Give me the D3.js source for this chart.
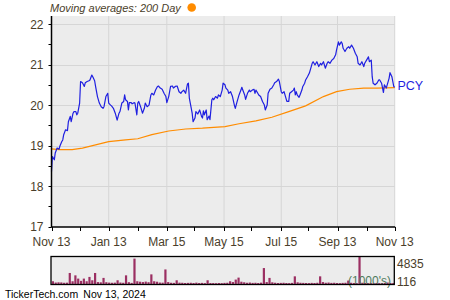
<!DOCTYPE html>
<html><head><meta charset="utf-8">
<script src="https://cdn.jsdelivr.net/npm/d3@7"></script>
<style>html,body{margin:0;padding:0;background:#fff;}svg{display:block;font-family:Arial,"Liberation Sans",sans-serif;}</style>
</head><body><svg id="c" width="450" height="300"></svg>
<script>
// ---------- data ----------
const startDate = "2023-11-13";
const endDate = "2024-11-13";
const majorTicks = ["2023-11-13","2024-01-13","2024-03-15","2024-05-15","2024-07-15","2024-09-13","2024-11-13"];
const majorLabels = ["Nov 13","Jan 13","Mar 15","May 15","Jul 15","Sep 13","Nov 13"];
const minorTicks = ["2023-12-13","2024-02-13","2024-04-13","2024-06-13","2024-08-13","2024-10-14"];
const yTicks = [17,18,19,20,21,22];
const yMinor = [17.5,18.5,19.5,20.5,21.5];
// price: day offset from start, close
const priceDays = [0,1,3,4,6,8,9,11,12,13,15,17,18,20,21,23,24,26,27,28,30,31,33,35,36,38,40,41,43,44,46,47,49,51,53,55,56,58,60,61,63,64,66,68,70,72,73,75,77,78,79,81,82,83,85,86,88,89,91,92,93,95,97,99,100,102,104,106,107,109,111,113,114,116,118,120,122,123,125,127,129,130,132,134,136,138,139,141,143,145,146,147,148,150,151,153,154,156,158,160,161,162,163,165,166,168,169,171,172,173,175,177,178,180,182,183,185,186,188,189,191,193,195,196,198,200,202,203,204,206,207,209,211,212,214,216,217,218,220,221,223,225,227,228,230,231,233,235,237,238,240,242,243,245,246,248,249,251,253,254,256,258,259,260,261,262,264,265,267,268,270,271,273,275,276,278,279,281,282,283,285,287,288,290,292,294,295,297,299,301,303,304,306,307,309,310,311,313,315,317,318,320,322,324,326,327,329,331,333,334,336,338,339,341,342,343,345,347,349,350,352,354,355,357,358,360,361,363,364,365,366];
const priceVals = [18.36,18.73,18.65,18.82,18.94,18.91,18.99,19.10,19.14,19.27,19.39,19.37,19.59,19.72,19.59,19.80,19.84,19.84,19.76,19.80,20.05,20.58,20.55,20.46,20.55,20.58,20.60,20.62,20.74,20.70,20.60,20.46,20.21,20.05,19.96,19.92,19.96,20.21,20.29,20.05,20.00,19.98,19.92,19.80,19.63,19.80,19.84,20.05,20.09,20.25,20.13,20.09,19.88,20.06,20.06,20.03,20.06,20.05,19.76,20.05,20.09,19.96,19.80,19.92,20.05,19.96,20.00,20.25,20.29,20.25,20.37,20.46,20.47,20.42,20.39,20.29,20.21,20.06,20.21,20.46,20.47,20.42,20.46,20.47,20.33,20.29,20.33,20.37,20.29,20.52,20.54,20.17,20.05,19.80,19.59,19.68,19.84,19.78,19.88,19.72,19.68,19.86,19.76,19.88,19.64,19.73,19.64,20.13,20.17,20.13,20.21,20.17,20.25,20.21,20.37,20.54,20.50,20.42,20.37,20.29,20.33,20.21,20.00,19.92,20.09,20.25,20.37,20.44,20.37,20.25,20.14,20.29,20.37,20.33,20.37,20.39,20.29,20.37,20.29,20.25,20.21,20.09,20.00,19.88,20.00,20.29,20.39,20.42,20.50,20.55,20.58,20.64,20.58,20.33,20.29,20.33,20.25,20.09,20.09,20.29,20.33,20.37,20.42,20.25,20.33,20.25,20.19,20.25,20.37,20.46,20.54,20.62,20.70,20.79,20.87,21.03,21.07,20.99,21.03,21.07,20.95,21.03,20.99,21.07,20.91,21.03,21.07,21.03,21.11,21.15,21.24,21.36,21.56,21.48,21.56,21.52,21.40,21.32,21.40,21.44,21.40,21.48,21.40,21.28,21.19,21.03,20.99,21.07,20.95,21.03,21.11,21.19,21.07,21.11,20.70,20.54,20.50,20.54,20.62,20.62,20.54,20.31,20.50,20.42,20.50,20.66,20.80,20.70,20.58,20.46,20.44];
// 200-day moving average
const maDays = [0,8,22,33,47,61,79,92,107,125,143,161,185,200,218,235,253,271,290,304,318,333,347,366];
const maVals = [18.92,18.90,18.90,18.94,19.02,19.10,19.14,19.17,19.27,19.36,19.41,19.43,19.47,19.54,19.61,19.70,19.84,19.98,20.21,20.33,20.39,20.42,20.42,20.43];
// volume (1000's), one bar per 3 days
const volume = [560,340,380,360,300,320,1990,560,1580,1020,630,1020,560,1310,730,1990,420,380,1140,400,330,300,320,730,340,300,1580,400,280,4470,560,480,420,500,400,1750,560,480,340,320,2600,420,300,280,730,320,300,260,280,300,260,320,260,280,240,730,260,250,230,260,240,280,300,560,420,850,1190,480,380,300,340,280,300,260,320,2840,420,1140,380,300,260,280,300,260,240,280,1410,380,300,280,260,240,280,260,300,1410,420,300,340,280,300,260,240,280,300,680,300,260,240,4835,300,260,240,250,230,260,240,250,280,340,260,250];
const volMax = 4835, volMin = 116;
const ticker = "PCY";
const titleText = "Moving averages: 200 Day";
const footerSite = "TickerTech.com";
const footerDate = "Nov 13, 2024";

// ---------- drawing ----------
const svg = d3.select("#c");
const parse = d3.timeParse("%Y-%m-%d");
const t0 = parse(startDate), t1 = parse(endDate);
const L = 51.5, R = 394.7, T = 16, B = 227;
const x = d3.scaleTime().domain([t0, t1]).range([L, R]);
const y = d3.scaleLinear().domain([17, 22]).range([226.7, 24]);
const txt = "#4a3e2a";

svg.append("rect").attr("x", L).attr("y", T).attr("width", R - L).attr("height", B - T).attr("fill", "#ececec");
// grid
svg.append("g").selectAll("line").data(yTicks.slice(1)).join("line")
  .attr("x1", L).attr("x2", R).attr("y1", d => Math.round(y(d)) + 0.5).attr("y2", d => Math.round(y(d)) + 0.5)
  .attr("stroke", "#d6d6d6").attr("stroke-width", 1);
svg.append("g").selectAll("line").data(majorTicks.slice(1)).join("line")
  .attr("x1", d => x(parse(d))).attr("x2", d => x(parse(d))).attr("y1", T).attr("y2", B)
  .attr("stroke", "#d6d6d6").attr("stroke-width", 1);

// lines
const dayDate = d => d3.timeDay.offset(t0, d);
const line = d3.line().x(d => x(d[0])).y(d => y(d[1]));
const ma = maDays.map((d, i) => [dayDate(d), maVals[i]]);
const price = priceDays.map((d, i) => [dayDate(d), priceVals[i]]);
svg.append("path").datum(ma).attr("d", line).attr("fill", "none").attr("stroke", "#ff8c00").attr("stroke-width", 1.2);
svg.append("path").datum(price).attr("d", line).attr("fill", "none").attr("stroke", "#1f1fe0").attr("stroke-width", 1.2).attr("stroke-linejoin", "round");

// axes
svg.append("line").attr("x1", L).attr("x2", L).attr("y1", T).attr("y2", B + 0.5).attr("stroke", "#000").attr("stroke-width", 1.5);
svg.append("line").attr("x1", L).attr("x2", R + 0.5).attr("y1", B).attr("y2", B).attr("stroke", "#000").attr("stroke-width", 1.5);
svg.append("g").selectAll("line").data(yTicks.concat(yMinor)).join("line")
  .attr("x1", L - 3).attr("x2", L).attr("y1", d => Math.round(y(d)) + 0.5).attr("y2", d => Math.round(y(d)) + 0.5)
  .attr("stroke", "#000").attr("stroke-width", 1);
svg.append("g").selectAll("line").data(majorTicks.concat(minorTicks)).join("line")
  .attr("x1", d => Math.round(x(parse(d))) + 0.5).attr("x2", d => Math.round(x(parse(d))) + 0.5).attr("y1", B).attr("y2", B + 4)
  .attr("stroke", "#000").attr("stroke-width", 1);
svg.append("g").selectAll("text").data(yTicks).join("text")
  .attr("x", 43.5).attr("y", d => y(d) + 4.5).attr("text-anchor", "end")
  .attr("font-size", 12).attr("fill", txt).text(d => d);
svg.append("g").selectAll("text").data(majorTicks).join("text")
  .attr("x", d => x(parse(d))).attr("y", 246).attr("text-anchor", "middle")
  .attr("font-size", 12).attr("fill", txt).text((d, i) => majorLabels[i]);

// title + legend dot
svg.append("text").attr("x", 50).attr("y", 12).attr("font-size", 11).attr("font-style", "italic").attr("fill", txt).text(titleText);
svg.append("circle").attr("cx", 191.7).attr("cy", 7.5).attr("r", 4.3).attr("fill", "#ff8c00");
// ticker label
svg.append("text").attr("x", 397.5).attr("y", y(priceVals[priceVals.length - 1]) + 2.5).attr("font-size", 12.5).attr("fill", "#1f1fe0").text(ticker);

// volume panel
const VT = 256.5, VB = 284.5, VL = 51, VR = 394.3;
svg.append("rect").attr("x", VL).attr("y", VT).attr("width", VR - VL).attr("height", VB - VT).attr("fill", "#ececec");
const vy = d3.scaleLinear().domain([0, volMax]).range([VB, VT]);
svg.append("g").selectAll("rect").data(volume).join("rect")
  .attr("x", (d, i) => x(dayDate(i * 3)) + 0.3)
  .attr("width", 2.2)
  .attr("y", d => vy(d))
  .attr("height", d => VB - vy(d))
  .attr("fill", "#9b2f62");
svg.append("text").attr("x", 348).attr("y", 285).attr("font-size", 12).attr("fill", "#4f7a5c").text("(1000's)");
svg.append("rect").attr("x", VL).attr("y", VT).attr("width", VR - VL).attr("height", VB - VT).attr("fill", "none").attr("stroke", "#000").attr("stroke-width", 1.3);
svg.append("text").attr("x", 397).attr("y", 267.5).attr("font-size", 12).attr("fill", txt).text(volMax);
svg.append("text").attr("x", 397).attr("y", 286).attr("font-size", 12).attr("fill", txt).text(volMin);

// footer
svg.append("text").attr("x", 5).attr("y", 297.5).attr("font-size", 10.5).attr("fill", "#000").text(footerSite);
svg.append("text").attr("x", 83.3).attr("y", 297.5).attr("font-size", 10.5).attr("fill", "#000").text(footerDate);
</script></body></html>
